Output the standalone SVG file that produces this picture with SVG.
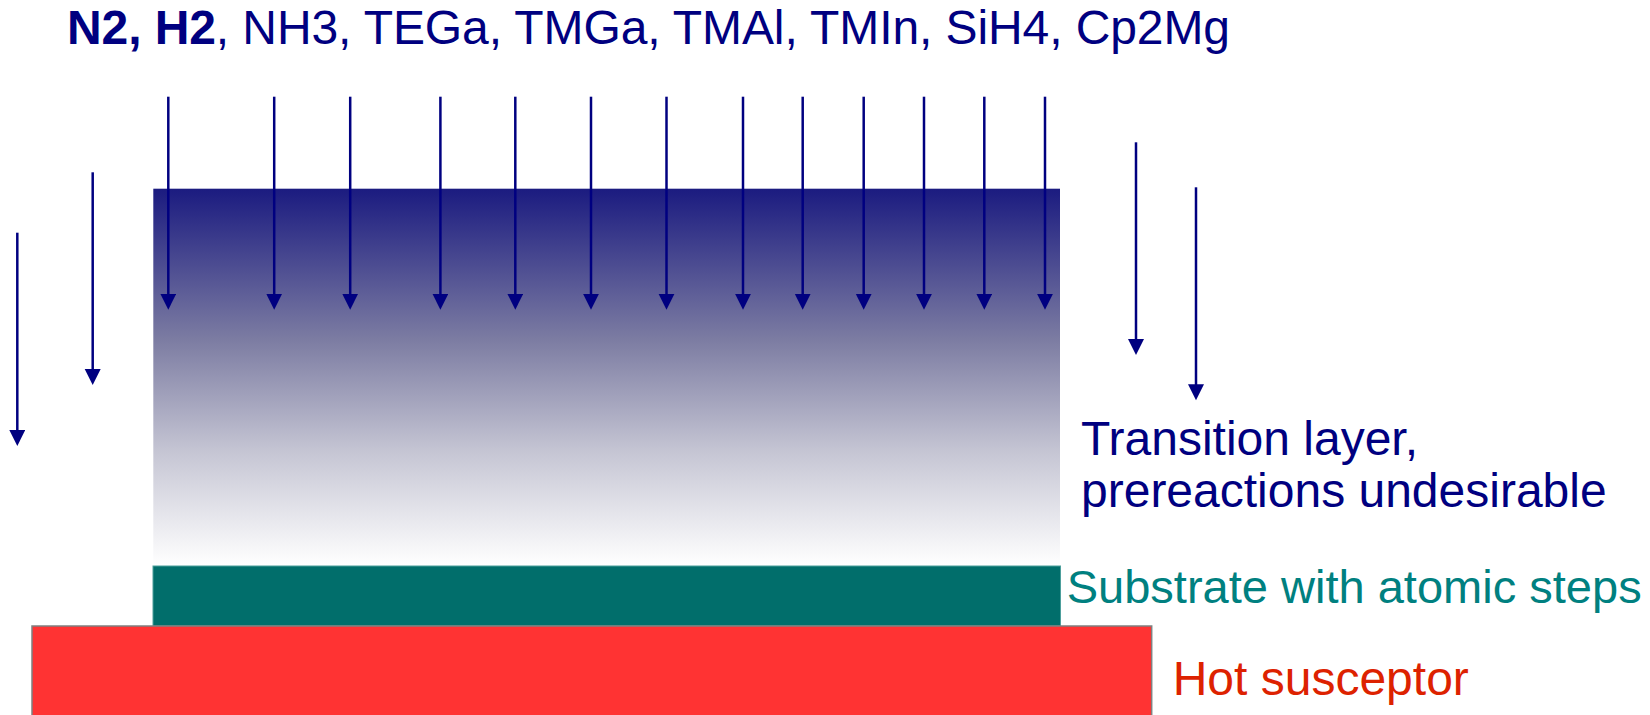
<svg xmlns="http://www.w3.org/2000/svg" width="1650" height="715" viewBox="0 0 1650 715">
  <defs>
    <linearGradient id="transGrad" x1="0" y1="0" x2="0" y2="1">
      <stop offset="0" stop-color="#1b1b80"/>
      <stop offset="0.4" stop-color="#7c7ca2"/>
      <stop offset="0.7" stop-color="#c6c6d4"/>
      <stop offset="1" stop-color="#ffffff"/>
    </linearGradient>
    <marker id="head" markerUnits="userSpaceOnUse" markerWidth="17" markerHeight="17" viewBox="0 0 17 17" refX="5" refY="8" orient="auto">
      <path d="M0,0 L16,8 L0,16 z" fill="#000080"/>
    </marker>
    <style>
      .lbl { font-family: "Liberation Sans", Arial, sans-serif; font-size: 48px; }
      .navy { fill: #000080; }
      .arrow { stroke: #000080; stroke-width: 2.5; fill: none; marker-end: url(#head); }
    </style>
  </defs>

  <g id="title">
    <text class="lbl navy" x="67" y="44" textLength="1163" lengthAdjust="spacing"><tspan font-weight="bold">N2, H2</tspan>, NH3, TEGa, TMGa, TMAl, TMIn, SiH4, Cp2Mg</text>
  </g>

  <g id="transition-layer">
    <rect x="153.3" y="188.7" width="906.7" height="377.3" fill="url(#transGrad)"/>
  </g>

  <g id="substrate">
    <rect x="153" y="566" width="907.5" height="60" fill="#016e6b" stroke="#4d9f9c" stroke-width="1"/>
  </g>

  <g id="susceptor">
    <rect x="32" y="626" width="1119.7" height="95" fill="#ff3333" stroke="#808080" stroke-width="1.5"/>
  </g>

  <g id="connectors">
    <line class="arrow" x1="168.3" y1="96.7" x2="168.3" y2="298.7"/>
    <line class="arrow" x1="274.2" y1="96.7" x2="274.2" y2="298.7"/>
    <line class="arrow" x1="350.2" y1="96.7" x2="350.2" y2="298.7"/>
    <line class="arrow" x1="440.4" y1="96.7" x2="440.4" y2="298.7"/>
    <line class="arrow" x1="515.3" y1="96.7" x2="515.3" y2="298.7"/>
    <line class="arrow" x1="591" y1="96.7" x2="591" y2="298.7"/>
    <line class="arrow" x1="666.5" y1="96.7" x2="666.5" y2="298.7"/>
    <line class="arrow" x1="743" y1="96.7" x2="743" y2="298.7"/>
    <line class="arrow" x1="802.7" y1="96.7" x2="802.7" y2="298.7"/>
    <line class="arrow" x1="863.7" y1="96.7" x2="863.7" y2="298.7"/>
    <line class="arrow" x1="924" y1="96.7" x2="924" y2="298.7"/>
    <line class="arrow" x1="984.3" y1="96.7" x2="984.3" y2="298.7"/>
    <line class="arrow" x1="1045" y1="96.7" x2="1045" y2="298.7"/>
    <line class="arrow" x1="17.3" y1="232.7" x2="17.3" y2="435"/>
    <line class="arrow" x1="92.7" y1="172.3" x2="92.7" y2="374"/>
    <line class="arrow" x1="1136" y1="142.3" x2="1136" y2="344"/>
    <line class="arrow" x1="1196" y1="187.3" x2="1196" y2="389.3"/>
  </g>

  <g id="transition-label">
    <text class="lbl navy" x="1081" y="455">Transition layer,</text>
    <text class="lbl navy" x="1081" y="507">prereactions undesirable</text>
  </g>

  <g id="substrate-label">
    <text class="lbl" x="1066.7" y="603" fill="#008080" style="font-size:47px" textLength="575" lengthAdjust="spacingAndGlyphs">Substrate with atomic steps</text>
  </g>

  <g id="susceptor-label">
    <text class="lbl" x="1172.7" y="695" fill="#dd2200">Hot susceptor</text>
  </g>
</svg>
